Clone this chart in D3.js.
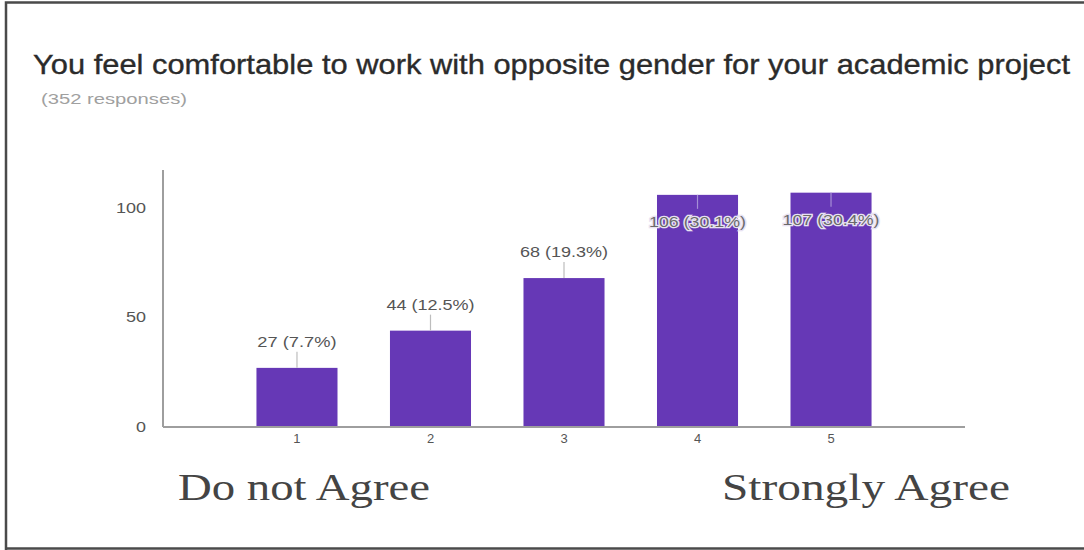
<!DOCTYPE html>
<html>
<head>
<meta charset="utf-8">
<script src="https://cdn.jsdelivr.net/npm/d3@7"></script>
<style>
  html, body { margin: 0; padding: 0; background: #fff; }
  svg { display: block; }
</style>
</head>
<body>
<svg id="chart" width="1084" height="550"></svg>
<script>
// ---- data ----
const titleText = "You feel comfortable to work with opposite gender for your academic project";
const subtitleText = "(352 responses)";
const categories = ["1", "2", "3", "4", "5"];
const counts = [27, 44, 68, 106, 107];
const percents = ["7.7%", "12.5%", "19.3%", "30.1%", "30.4%"];
const yTicks = [0, 50, 100];
const scaleLabels = ["Do not Agree", "Strongly Agree"];

// ---- layout ----
const W = 1084, H = 550;
const plot = { left: 163, right: 965, top: 170, bottom: 427 };
const barColor = "#6638b6";

const svg = d3.select("#chart");

// frame
svg.append("rect").attr("x", 0).attr("y", 0).attr("width", W).attr("height", H).attr("fill", "#fff");
svg.append("path")
  .attr("d", `M6,${H} L6,2.5 L${W},2.5`)
  .attr("fill", "none").attr("stroke", "#4a4a4a").attr("stroke-width", 2.5);
svg.append("line")
  .attr("x1", 6).attr("x2", W).attr("y1", 548.5).attr("y2", 548.5)
  .attr("stroke", "#4a4a4a").attr("stroke-width", 2.5);

// title
svg.append("text")
  .attr("x", 33).attr("y", 74)
  .attr("font-family", "Liberation Sans, Arial, sans-serif")
  .attr("font-size", 28)
  .attr("fill", "#2b2b2b")
  .attr("stroke", "#2b2b2b").attr("stroke-width", 0.35)
  .attr("textLength", 1037).attr("lengthAdjust", "spacingAndGlyphs")
  .text(titleText);

svg.append("text")
  .attr("x", 41).attr("y", 104)
  .attr("font-family", "Liberation Sans, Arial, sans-serif")
  .attr("font-size", 15)
  .attr("fill", "#a0a0a0")
  .attr("textLength", 146).attr("lengthAdjust", "spacingAndGlyphs")
  .text(subtitleText);

// scales
const x = d3.scaleBand()
  .domain(categories)
  .range([plot.left, plot.right])
  .paddingInner(0.393)
  .paddingOuter(0.70);

const y = d3.scaleLinear()
  .domain([0, 100])
  .range([plot.bottom, 208]);

// y axis line
svg.append("line")
  .attr("x1", plot.left).attr("x2", plot.left)
  .attr("y1", plot.top).attr("y2", plot.bottom)
  .attr("stroke", "#9e9e9e").attr("stroke-width", 2);

// y tick labels via axis
const yAxis = d3.axisLeft(y).tickValues(yTicks).tickSize(0).tickPadding(0);
const yg = svg.append("g").attr("transform", `translate(146,0)`).call(yAxis);
yg.select(".domain").remove();
yg.selectAll("text")
  .attr("font-family", "Liberation Sans, Arial, sans-serif")
  .attr("font-size", 14)
  .attr("fill", "#555")
  .attr("textLength", d => String(d).length * 10)
  .attr("lengthAdjust", "spacingAndGlyphs");

// bars
svg.append("g").selectAll("rect")
  .data(categories)
  .join("rect")
  .attr("x", d => x(d))
  .attr("width", x.bandwidth())
  .attr("y", (d, i) => y(counts[i]))
  .attr("height", (d, i) => plot.bottom - y(counts[i]))
  .attr("fill", barColor);

// x axis
svg.append("line")
  .attr("x1", plot.left).attr("x2", plot.right)
  .attr("y1", plot.bottom).attr("y2", plot.bottom)
  .attr("stroke", "#9e9e9e").attr("stroke-width", 2);

const xAxis = d3.axisBottom(x).tickSize(0).tickPadding(0);
const xg = svg.append("g").attr("transform", `translate(0,${plot.bottom + 4})`).call(xAxis);
xg.select(".domain").remove();
xg.selectAll("text")
  .attr("font-family", "Liberation Sans, Arial, sans-serif")
  .attr("font-size", 13)
  .attr("fill", "#555")
  .attr("dy", "0.9em");

// value labels with stems
const labelG = svg.append("g");
categories.forEach((c, i) => {
  const cx = x(c) + x.bandwidth() / 2;
  const top = y(counts[i]);
  const above = top - 26 > 200;
  const ly = above ? top - 26 : top + 27;
  const stemEnd = above ? top - 16 : top + 14;
  labelG.append("line")
    .attr("x1", cx).attr("x2", cx)
    .attr("y1", top).attr("y2", stemEnd)
    .attr("stroke", above ? "#bdbdbd" : "#a58fd6").attr("stroke-width", 1.2);
  const txt = `${counts[i]} (${percents[i]})`;
  const len = txt.length * 8.8;
  const t = labelG.append("text")
    .attr("x", cx).attr("y", ly)
    .attr("text-anchor", "middle")
    .attr("dominant-baseline", "central")
    .attr("font-family", "Liberation Sans, Arial, sans-serif")
    .attr("font-size", 14)
    .attr("fill", "#555")
    .attr("textLength", len).attr("lengthAdjust", "spacingAndGlyphs")
    .text(txt);
  if (!above) {
    t.attr("stroke", "#e8e2f2").attr("stroke-width", 2.5)
     .attr("paint-order", "stroke").attr("fill", "#6a6a6a");
  }
});

// bottom scale labels
svg.append("text")
  .attr("x", 178).attr("y", 500)
  .attr("font-family", "Liberation Serif, 'DejaVu Serif', serif")
  .attr("font-size", 37)
  .attr("fill", "#444")
  .attr("textLength", 252).attr("lengthAdjust", "spacingAndGlyphs")
  .text(scaleLabels[0]);
svg.append("text")
  .attr("x", 722).attr("y", 500)
  .attr("font-family", "Liberation Serif, 'DejaVu Serif', serif")
  .attr("font-size", 37)
  .attr("fill", "#444")
  .attr("textLength", 288).attr("lengthAdjust", "spacingAndGlyphs")
  .text(scaleLabels[1]);
</script>
</body>
</html>
